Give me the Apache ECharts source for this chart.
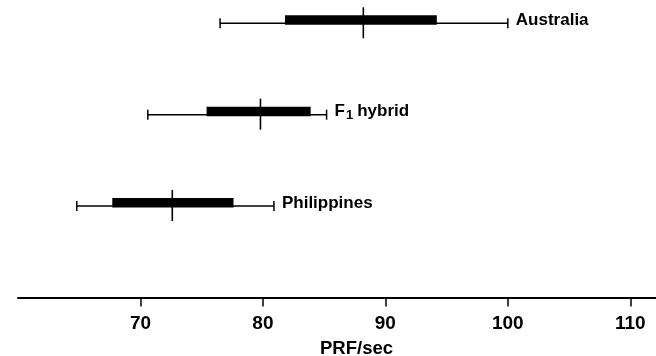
<!DOCTYPE html>
<html>
<head>
<meta charset="utf-8">
<script src="https://cdn.jsdelivr.net/npm/echarts@6/dist/echarts.min.js"></script>
<style>
  html, body { margin: 0; padding: 0; background: #fff; }
  #chart { width: 656px; height: 356px; }
</style>
</head>
<body>
<div id="chart"></div>
<script>
// rows from bottom to top
const categories = ['Philippines', 'F1 hybrid', 'Australia'];
const categoryLabels = ['Philippines', '{n|F}{s|1}{n|hybrid}', 'Australia'];
const rowPos = [1, 2, 3];
const lows = [64.8, 70.6, 76.5];
const q1s = [67.7, 75.4, 81.8];
const medians = [72.6, 79.8, 88.2];
const q3s = [77.6, 83.9, 94.2];
const highs = [80.9, 85.2, 100.0];
const tickValues = [70, 80, 90, 100, 110];

const font = '"Liberation Sans", Arial, sans-serif';
const chart = echarts.init(document.getElementById('chart'));

const seriesData = categories.map((c, i) => [rowPos[i], lows[i], q1s[i], medians[i], q3s[i], highs[i], i]);

function renderItem(params, api) {
  const y = api.value(0);
  const pLow = api.coord([api.value(1), y]);
  const pQ1 = api.coord([api.value(2), y]);
  const pMed = api.coord([api.value(3), y]);
  const pQ3 = api.coord([api.value(4), y]);
  const pHigh = api.coord([api.value(5), y]);
  const idx = api.value(6);
  const py = pLow[1];
  const line = { stroke: '#000', lineWidth: 1.5 };
  return {
    type: 'group',
    children: [
      { type: 'line', shape: { x1: pLow[0], y1: py, x2: pHigh[0], y2: py }, style: line },
      { type: 'line', shape: { x1: pLow[0], y1: py - 5, x2: pLow[0], y2: py + 5 }, style: line },
      { type: 'line', shape: { x1: pHigh[0], y1: py - 5, x2: pHigh[0], y2: py + 5 }, style: line },
      { type: 'rect', shape: { x: pQ1[0], y: py - 8, width: pQ3[0] - pQ1[0], height: 9.5 }, style: { fill: '#000' } },
      { type: 'line', shape: { x1: pMed[0], y1: py - 16, x2: pMed[0], y2: py + 15 }, style: { stroke: '#000', lineWidth: 1.6 } },
      {
        type: 'text',
        x: pHigh[0] + 8,
        y: py - 3,
        style: {
          text: categoryLabels[idx],
          fill: '#000',
          font: 'bold 17px ' + font,
          verticalAlign: 'middle',
          align: 'left',
          rich: {
            n: { fontSize: 17, fontWeight: 'bold', fontFamily: font, fill: '#000' },
            s: { fontSize: 13, fontWeight: 'bold', fontFamily: font, fill: '#000', padding: [7, 4, 0, 1] }
          }
        }
      }
    ]
  };
}

chart.setOption({
  animation: false,
  backgroundColor: '#fff',
  grid: { left: 18, right: 0, top: 5, bottom: 54 },
  xAxis: {
    type: 'value',
    min: 60,
    max: 112.1,
    interval: 10,
    axisLine: { show: true, lineStyle: { color: '#000', width: 2 } },
    axisTick: { show: true, length: 9, customValues: tickValues, lineStyle: { color: '#000', width: 1.5 } },
    axisLabel: {
      customValues: tickValues,
      color: '#000',
      fontSize: 19,
      fontWeight: 'bold',
      fontFamily: font,
      margin: 12
    },
    splitLine: { show: false }
  },
  yAxis: {
    type: 'value',
    min: -0.05,
    max: 3.2,
    show: false
  },
  graphic: [{
    type: 'text',
    left: 360 - 40,
    top: 339,
    style: { text: 'PRF/sec', fill: '#000', font: 'bold 18.5px ' + font }
  }],
  series: [{
    type: 'custom',
    renderItem: renderItem,
    encode: { x: [1, 2, 3, 4, 5], y: 0 },
    data: seriesData
  }]
});
</script>
</body>
</html>
